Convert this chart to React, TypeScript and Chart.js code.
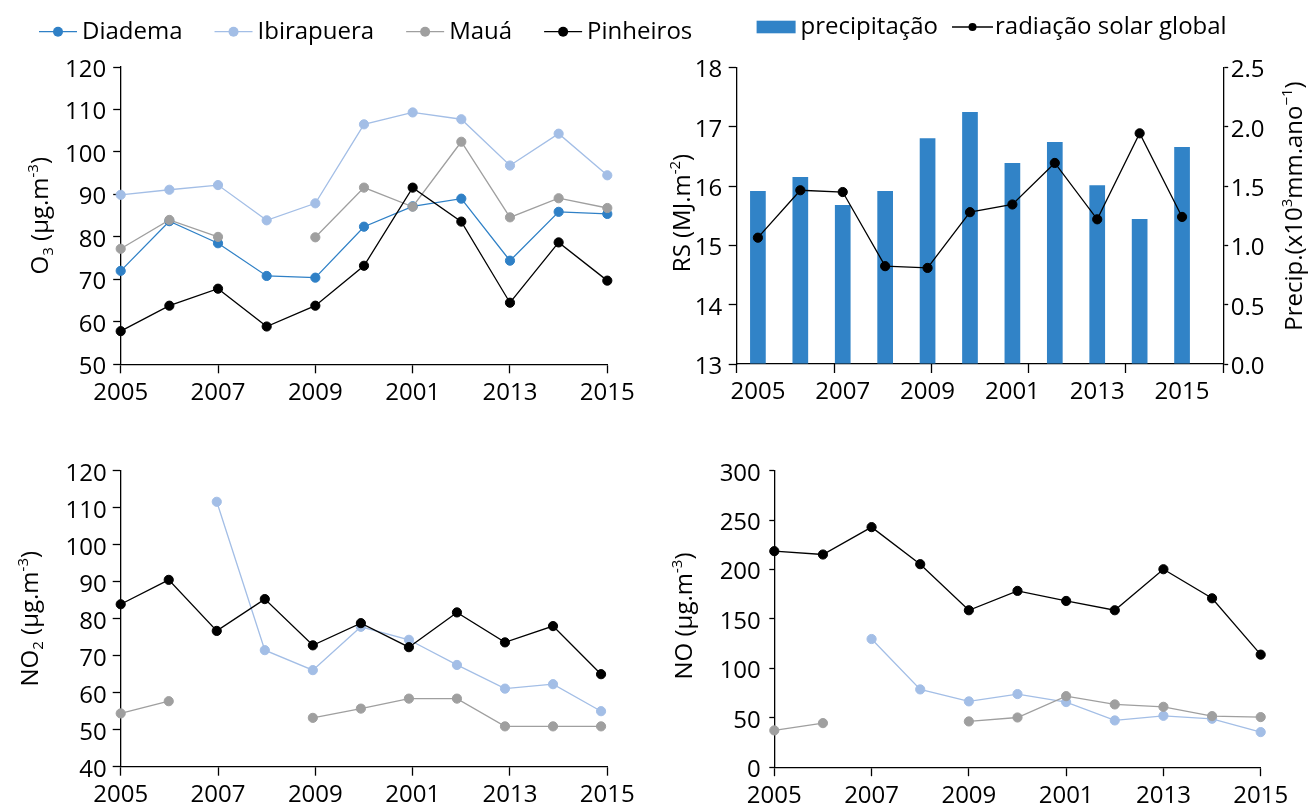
import React, { useEffect, useRef } from 'react';
import { Chart, registerables } from 'chart.js';

Chart.register(...registerables);

// ---------------- data ----------------
const years = ['2005', '2006', '2007', '2008', '2009', '2010', '2011', '2012', '2013', '2014', '2015'];
const xTickLabels = ['2005', '2007', '2009', '2001', '2013', '2015'];
const stations = ['Diadema', 'Ibirapuera', 'Mauá', 'Pinheiros'];

const diademaO3 = [72.0, 83.7, 78.5, 70.8, 70.4, 82.4, 87.2, 89.0, 74.4, 85.9, 85.4];
const ibirapueraO3 = [89.9, 91.1, 92.2, 83.9, 87.9, 106.5, 109.3, 107.7, 96.8, 104.3, 94.5];
const mauaO3 = [77.2, 84.0, 80.0, null, 79.9, 91.6, 87.1, 102.4, 84.6, 89.1, 86.8];
const pinheirosO3 = [57.8, 63.8, 67.8, 58.9, 63.8, 73.2, 91.6, 83.6, 64.5, 78.7, 69.7];

const rsValues = [15.13, 15.93, 15.9, 14.65, 14.62, 15.56, 15.69, 16.39, 15.44, 16.89, 15.48];
const precipValues = [1.458, 1.576, 1.34, 1.458, 1.904, 2.124, 1.694, 1.871, 1.508, 1.222, 1.829];
const rsLabel = 'radiação solar global';
const precipLabel = 'precipitação';

const diademaNO2 = [null, null, null, null, null, null, null, null, null, null, null];
const ibirapueraNO2 = [null, null, 111.6, 71.5, 66.1, 77.8, 74.3, 67.5, 61.1, 62.3, 55.0];
const mauaNO2 = [54.4, 57.7, null, null, 53.2, 55.7, 58.4, 58.4, 50.9, 50.9, 50.9];
const pinheirosNO2 = [83.9, 90.5, 76.7, 85.3, 72.8, 78.8, 72.3, 81.7, 73.6, 78.0, 65.0];

const diademaNO = [null, null, null, null, null, null, null, null, null, null, null];
const ibirapueraNO = [null, null, 129.7, 78.7, 66.6, 74.0, 65.9, 47.3, 52.0, 49.0, 35.5];
const mauaNO = [37.2, 44.6, null, null, 46.3, 50.3, 71.9, 63.5, 61.1, 51.7, 50.7];
const pinheirosNO = [218.6, 215.2, 242.9, 205.4, 158.8, 178.4, 168.2, 158.8, 200.3, 170.9, 113.9];

type Part = [string, string];
const titleO3: Part[] = [['O', ''], ['3', 'sub'], [' (µg.m', ''], ['-3', 'sup'], [')', '']];
const titleRS: Part[] = [['RS (MJ.m', ''], ['-2', 'sup'], [')', '']];
const titlePrecip: Part[] = [['Precip.(x10', ''], ['3', 'sup'], ['mm.ano', ''], ['−1', 'sup'], [')', '']];
const titleNO2: Part[] = [['NO', ''], ['2', 'sub'], [' (µg.m', ''], ['-3', 'sup'], [')', '']];
const titleNO: Part[] = [['NO (µg.m', ''], ['-3', 'sup'], [')', '']];

// ---------------- styles ----------------
const FONT = "'Open Sans', 'DejaVu Sans', sans-serif";
const FS = 24;
const stationColors = ['#2F80C6', '#A3BEE6', '#9F9F9F', '#000000'];
const barColor = '#3183C7';

function linspace(a: number, b: number, n: number) {
  const out: number[] = [];
  for (let i = 0; i < n; i++) out.push(a + ((b - a) * i) / (n - 1));
  return out;
}

function drawRich(ctx: CanvasRenderingContext2D, parts: Part[], x: number, y: number) {
  ctx.save();
  ctx.translate(x, y);
  ctx.rotate(-Math.PI / 2);
  const small = Math.round(FS * 0.62);
  const widths = parts.map(([t, k]) => {
    ctx.font = `${k ? small : FS}px ${FONT}`;
    return ctx.measureText(t).width;
  });
  const total = widths.reduce((a, b) => a + b, 0);
  let cx = -total / 2;
  ctx.textBaseline = 'alphabetic';
  ctx.textAlign = 'left';
  ctx.fillStyle = '#000';
  parts.forEach(([t, k], i) => {
    ctx.font = `${k ? small : FS}px ${FONT}`;
    const dy = k === 'sub' ? FS * 0.22 : k === 'sup' ? -FS * 0.4 : 0;
    ctx.fillText(t, cx, dy);
    cx += widths[i];
  });
  ctx.restore();
}

function makeDecor(cfg: any) {
  return {
    id: 'decor',
    afterDraw(chart: any) {
      const ctx: CanvasRenderingContext2D = chart.ctx;
      (cfg.titles || []).forEach((t: any) => drawRich(ctx, t.parts, t.x, t.y));
      const lg = cfg.legend;
      if (!lg) return;
      ctx.save();
      ctx.font = `${FS}px ${FONT}`;
      let x = lg.x;
      chart.data.datasets.forEach((ds: any) => {
        if (ds.type === 'bar') {
          ctx.fillStyle = ds.backgroundColor;
          ctx.fillRect(x, lg.rectTop, lg.rectW, lg.rectH);
          x += lg.rectW + lg.barGap;
        } else {
          ctx.strokeStyle = ds.borderColor;
          ctx.lineWidth = 1.3;
          ctx.beginPath();
          ctx.moveTo(x, lg.lineY);
          ctx.lineTo(x + lg.lineLen, lg.lineY);
          ctx.stroke();
          ctx.fillStyle = ds.borderColor;
          ctx.beginPath();
          ctx.arc(x + lg.lineLen / 2, lg.lineY, lg.dotR, 0, Math.PI * 2);
          ctx.fill();
          x += lg.lineLen + lg.lineGap;
        }
        ctx.fillStyle = '#000';
        ctx.textBaseline = 'alphabetic';
        ctx.textAlign = 'left';
        ctx.fillText(ds.label, x, lg.baseline);
        x += ctx.measureText(ds.label).width + lg.itemGap;
      });
      ctx.restore();
    },
  };
}

function lineDs(label: string, values: (number | null)[], color: string, order: number) {
  return {
    type: 'line',
    label,
    data: values.map((v, i) => ({ x: i, y: v })),
    borderColor: color,
    backgroundColor: color,
    borderWidth: 1.3,
    pointRadius: 4.6,
    pointBorderWidth: 1,
    pointBorderColor: color,
    pointBackgroundColor: color,
    spanGaps: false,
    tension: 0,
    clip: false,
    order,
  };
}

function stationSets(series: (number | null)[][]) {
  return series.map((vals, i) => lineDs(stations[i], vals, stationColors[i], series.length - i));
}

function xAxis(min: number, max: number, marks: number[], height: number, pad: number) {
  return {
    type: 'linear',
    position: 'bottom',
    min,
    max,
    offset: false,
    afterBuildTicks: (s: any) => {
      s.ticks = marks.map((v) => ({ value: v }));
    },
    afterFit: (s: any) => {
      s.height = height;
    },
    ticks: {
      autoSkip: false,
      maxRotation: 0,
      padding: pad,
      color: '#000',
      font: { family: FONT, size: FS },
      callback: (_v: any, i: number) => xTickLabels[i],
    },
    grid: { drawOnChartArea: false, drawTicks: true, tickLength: 9, tickColor: '#000', tickWidth: 1.3, offset: false },
    border: { color: '#000', width: 1.3 },
  };
}

function yAxis(min: number, max: number, step: number, width: number, tickLen: number, pad: number, position = 'left', decimals = 0) {
  return {
    type: 'linear',
    position,
    min,
    max,
    afterFit: (s: any) => {
      s.width = width;
    },
    ticks: {
      stepSize: step,
      padding: pad,
      labelOffset: 3,
      color: '#000',
      font: { family: FONT, size: FS },
      callback: (v: any) => Number(v).toFixed(decimals),
    },
    grid: { drawOnChartArea: false, drawTicks: true, tickLength: tickLen, tickColor: '#000', tickWidth: 1.3 },
    border: { color: '#000', width: 1.3 },
  };
}

const baseOptions = (padding: any, scales: any) => ({
  responsive: false,
  animation: false,
  events: [],
  layout: { padding },
  plugins: { legend: { display: false }, tooltip: { enabled: false }, title: { display: false } },
  scales,
});

function useChart(ref: React.RefObject<HTMLCanvasElement>, build: () => any) {
  useEffect(() => {
    if (!ref.current) return;
    const chart = new Chart(ref.current, build());
    return () => chart.destroy();
  }, []);
}

const ticks10 = [0, 2, 4, 6, 8, 10];

export default function App() {
  const r1 = useRef<HTMLCanvasElement>(null);
  const r2 = useRef<HTMLCanvasElement>(null);
  const r3 = useRef<HTMLCanvasElement>(null);
  const r4 = useRef<HTMLCanvasElement>(null);

  useChart(r1, () => ({
    type: 'line',
    data: { datasets: stationSets([diademaO3, ibirapueraO3, mauaO3, pinheirosO3]) },
    options: baseOptions(
      { top: 67, right: 112.7, left: 0, bottom: 0 },
      { x: xAxis(0, 10, ticks10, 55.7, 5), y: yAxis(50, 120, 10, 120.7, 7.5, 7) }
    ),
    plugins: [
      makeDecor({
        titles: [{ parts: titleO3, x: 48, y: 215.7 }],
        legend: { x: 39, lineY: 31.7, baseline: 39.3, lineLen: 38, dotR: 5, lineGap: 5, itemGap: 32 },
      }),
    ],
  }));

  useChart(r2, () => {
    const marks = linspace(-0.5, 10.97, 6);
    const xl = xAxis(-0.5, 10.97, ticks10, 56, 14);
    xl.grid = { ...xl.grid, drawTicks: false, tickLength: 0 } as any;
    (xl as any).weight = 1;
    const xm: any = xAxis(-0.5, 10.97, marks, 0, 0);
    xm.ticks = { ...xm.ticks, display: false };
    xm.border = { display: false };
    xm.weight = 0;
    return {
      type: 'line',
      data: {
        datasets: [
          {
            type: 'bar',
            label: precipLabel,
            data: precipValues.map((v, i) => ({ x: i, y: v })),
            backgroundColor: barColor,
            borderWidth: 0,
            barPercentage: 0.37,
            categoryPercentage: 1,
            xAxisID: 'x',
            yAxisID: 'y1',
            order: 2,
          },
          { ...lineDs(rsLabel, rsValues, '#000000', 1), yAxisID: 'y', xAxisID: 'x' },
        ],
      },
      options: baseOptions(
        { top: 67.5, right: 0, left: 0, bottom: 0 },
        {
          x2: xm,
          x: xl,
          y: yAxis(13, 18, 1, 86.7, 8, 6.6),
          y1: yAxis(0, 2.5, 0.5, 85.8, 5, 2.5, 'right', 1),
        }
      ),
      plugins: [
        makeDecor({
          titles: [
            { parts: titleRS, x: 40, y: 213 },
            { parts: titlePrecip, x: 652, y: 206 },
          ],
          legend: {
            x: 106.6, rectTop: 20.7, rectW: 39, rectH: 12.6, barGap: 5,
            lineY: 27, lineLen: 41, dotR: 4, lineGap: 2, baseline: 33.5, itemGap: 14,
          },
        }),
      ],
    };
  });

  useChart(r3, () => ({
    type: 'line',
    data: { datasets: stationSets([diademaNO2, ibirapueraNO2, mauaNO2, pinheirosNO2]) },
    options: baseOptions(
      { top: 50.7, right: 42.7, left: 0, bottom: 0 },
      { x: xAxis(0, 10.13, linspace(0, 10.13, 6), 40.3, 5), y: yAxis(40, 120, 10, 120.7, 8, 6) }
    ),
    plugins: [makeDecor({ titles: [{ parts: titleNO2, x: 38, y: 198.7 }] })],
  }));

  useChart(r4, () => ({
    type: 'line',
    data: { datasets: stationSets([diademaNO, ibirapueraNO, mauaNO, pinheirosNO]) },
    options: baseOptions(
      { top: 50.7, right: 48.3, left: 0, bottom: 0 },
      { x: xAxis(0, 10, ticks10, 39.8, 6), y: yAxis(0, 300, 50, 124.3, 5, 8.5) }
    ),
    plugins: [makeDecor({ titles: [{ parts: titleNO, x: 42, y: 196 }] })],
  }));

  const box = (left: number, top: number, w: number, h: number): React.CSSProperties => ({
    position: 'absolute', left, top, width: w, height: h,
  });

  return (
    <div style={{ position: 'absolute', left: 0, top: 0, width: 1309, height: 807, background: '#fff', overflow: 'hidden' }}>
      <canvas ref={r1} width={720} height={420} style={box(0, 0, 720, 420)} />
      <canvas ref={r2} width={659} height={420} style={box(650, 0, 659, 420)} />
      <canvas ref={r3} width={650} height={387} style={box(0, 420, 650, 387)} />
      <canvas ref={r4} width={659} height={387} style={box(650, 420, 659, 387)} />
    </div>
  );
}
